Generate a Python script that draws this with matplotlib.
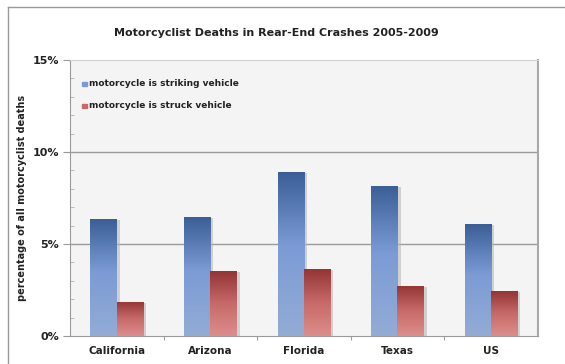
import numpy as np
import matplotlib.pyplot as plt
from matplotlib.patches import Rectangle
from matplotlib.lines import Line2D
from matplotlib.colors import LinearSegmentedColormap

# data
states = ["California", "Arizona", "Florida", "Texas", "US"]
striking = [6.35, 6.45, 8.9, 8.17, 6.07]
struck = [1.86, 3.53, 3.64, 2.73, 2.43]
yticks = [0, 5, 10, 15]
ylabels = ["0%", "5%", "10%", "15%"]

blue_cmap = LinearSegmentedColormap.from_list(
    "blue", [(0, "#3a5e95"), (0.45, "#7c9bd5"), (1, "#93acd6")])
red_cmap = LinearSegmentedColormap.from_list(
    "red", [(0, "#943434"), (0.5, "#c76a69"), (1, "#dc8e8c")])

fig = plt.figure(figsize=(5.65, 3.64), dpi=100)
fig.patch.set_facecolor("white")

# outer frame of the chart (only top and left edges are visible)
fx, fy = 7.5 / 565, 1 - 6.5 / 364
fig.lines.append(Line2D([fx, 1], [fy, fy], transform=fig.transFigure,
                        color="#9a9a9a", linewidth=1.0))
fig.lines.append(Line2D([fx, fx], [0, fy], transform=fig.transFigure,
                        color="#9a9a9a", linewidth=1.0))

ax = fig.add_axes([70 / 565, 1 - 336 / 364, 468 / 565, 276 / 364])
ax.set_facecolor("#f4f4f4")

x = np.arange(len(states))
w = 0.285
off = 0.14

# gridlines
for v in [5, 10]:
    ax.axhline(v, color="#9a9a9a", linewidth=1.0, zorder=1)

grad = np.linspace(0, 1, 256).reshape(-1, 1)


def gradient_bars(xs, vals, cmap):
    # soft shadow on the right of each bar
    ax.bar(xs + 0.03, np.array(vals) - 0.05, width=w, bottom=0,
           color="#b8b8b8", alpha=0.6, zorder=2, linewidth=0)
    bars = ax.bar(xs, vals, width=w, color="none", linewidth=0, zorder=3)
    for b in bars:
        x0, y0 = b.get_x(), b.get_y()
        im = ax.imshow(grad, cmap=cmap, aspect="auto", zorder=3,
                       extent=[x0, x0 + b.get_width(), y0, y0 + b.get_height()])
        im.set_clip_path(b)
    return bars


gradient_bars(x - off, striking, blue_cmap)
gradient_bars(x + off, struck, red_cmap)
ax.set_xlim(-0.5, len(states) - 0.5)
ax.set_ylim(0, 15)

# axes styling
ax.spines["top"].set_color("#d0d0d0")
ax.spines["left"].set_color("#9a9a9a")
ax.spines["bottom"].set_color("#9a9a9a")
ax.spines["right"].set_color("#a8a8a8")
ax.spines["right"].set_linewidth(1.5)

ax.set_yticks(yticks)
ax.set_yticklabels(ylabels, fontsize=8, fontweight="bold", color="#222222")
ax.set_yticks(np.arange(0, 15, 1), minor=True)
ax.tick_params(axis="y", which="major", length=5, color="#9a9a9a", pad=3)
ax.tick_params(axis="y", which="minor", length=3, direction="in",
               color="#b0b0b0")

ax.set_xticks(np.arange(0.5, len(states) - 0.5, 1))
ax.set_xticklabels([])
ax.set_xticks(x, minor=True)
ax.set_xticklabels(states, minor=True, fontsize=7.5, fontweight="bold",
                   color="#222222")
ax.tick_params(axis="x", which="major", length=3, color="#9a9a9a")
ax.tick_params(axis="x", which="minor", length=0, pad=7)

ax.set_ylabel("percentage of all motorcyclist deaths", fontsize=7,
              fontweight="bold", color="#222222", labelpad=4)

fig.text(0.49, 1 - 33 / 364, "Motorcyclist Deaths in Rear-End Crashes 2005-2009",
         ha="center", va="center", fontsize=8, fontweight="bold",
         color="#222222")

# legend
for yy, col, lab in [(84, "#7c9bd5", "motorcycle is striking vehicle"),
                     (106, "#c76a69", "motorcycle is struck vehicle")]:
    fig.patches.append(Rectangle((82 / 565, 1 - (yy + 2) / 364), 5 / 565,
                                 4 / 364, transform=fig.transFigure,
                                 color=col))
    fig.text(89 / 565, 1 - yy / 364, lab, ha="left", va="center",
             fontsize=6.5, fontweight="bold", color="#222222")

fig.savefig("out.png", dpi=100)
